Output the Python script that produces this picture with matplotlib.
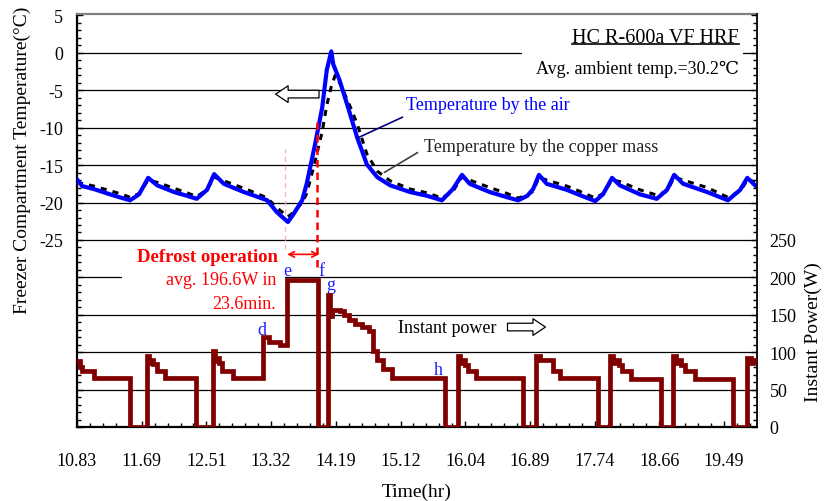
import matplotlib
matplotlib.use("Agg")
import matplotlib.pyplot as plt
from matplotlib.ticker import FixedLocator, MultipleLocator, FuncFormatter
from matplotlib.patches import Rectangle
from matplotlib.lines import Line2D

plt.rcParams["font.family"] = ["Liberation Serif", "DejaVu Serif", "DejaVu Sans"]

# time axis is a category axis: one label every 5 minor steps
time_labels = ["10.83", "11.69", "12.51", "13.32", "14.19", "15.12",
               "16.04", "16.89", "17.74", "18.66", "19.49"]

# freezer temperature measured by the air (axis position, degC)
air_x = [0.00, 0.08, 0.26, 0.51, 0.66, 0.82, 0.96, 1.10, 1.24, 1.50, 1.70,
         1.85, 2.01, 2.12, 2.27, 2.58, 2.81, 2.94, 3.09, 3.26, 3.35, 3.48,
         3.55, 3.68, 3.79, 3.86, 3.93, 3.96, 4.06, 4.19, 4.33, 4.48, 4.64,
         4.84, 5.15, 5.41, 5.64, 5.81, 5.95, 6.07, 6.38, 6.65, 6.82, 6.96,
         7.05, 7.14, 7.26, 7.57, 7.77, 8.01, 8.13, 8.27, 8.39, 8.70, 8.96,
         9.12, 9.23, 9.37, 9.74, 10.06, 10.25, 10.36, 10.48]
air_t = [-16.9, -17.8, -18.2, -18.9, -19.3, -19.7, -18.9, -16.7, -17.7, -18.6,
         -19.1, -19.5, -18.3, -16.2, -17.5, -18.6, -19.3, -19.7, -21.3, -22.6,
         -21.5, -19.7, -17.5, -12.2, -7.3, -2.3, 0.2, -1.5, -3.7, -7.3, -11.3,
         -14.9, -16.6, -17.7, -18.6, -19.1, -19.7, -18.2, -16.3, -17.5, -18.6,
         -19.3, -19.7, -19.1, -18.2, -16.3, -17.5, -18.3, -19.0, -19.8, -18.9,
         -16.7, -17.7, -18.9, -19.5, -18.3, -16.3, -17.5, -18.6, -19.7, -18.3,
         -16.7, -17.7]

# freezer temperature measured by the copper mass
copper_x = [0.00, 0.26, 0.66, 0.82, 0.96, 1.10, 1.24, 1.50, 1.70, 1.85, 2.01,
            2.12, 2.27, 2.58, 2.81, 2.94, 3.09, 3.26, 3.35, 3.48, 3.55, 3.68,
            3.79, 3.86, 3.93, 3.99, 4.06, 4.19, 4.33, 4.48, 4.64, 4.84, 5.15,
            5.41, 5.64, 5.81, 5.95, 6.07, 6.38, 6.65, 6.82, 6.96, 7.05, 7.14,
            7.26, 7.57, 7.77, 8.01, 8.13, 8.27, 8.39, 8.70, 8.96, 9.12, 9.23,
            9.37, 9.74, 10.06, 10.25, 10.36, 10.48]
copper_t = [-17.3, -17.8, -18.8, -19.3, -18.8, -17.0, -17.3, -18.1, -18.7,
            -19.2, -18.3, -16.6, -17.1, -18.1, -18.9, -19.4, -20.7, -21.9,
            -21.3, -20.0, -18.8, -14.5, -10.5, -7.0, -4.5, -3.0, -4.0, -6.5,
            -9.5, -13.5, -15.8, -17.1, -18.2, -18.7, -19.4, -18.5, -16.6,
            -17.0, -18.0, -18.8, -19.4, -19.0, -18.5, -16.6, -17.0, -17.8,
            -18.5, -19.4, -18.8, -17.0, -17.2, -18.3, -19.0, -18.5, -16.6,
            -17.0, -18.0, -19.3, -18.5, -17.0, -17.2]

# instantaneous compressor / heater power, held until the next point (W)
power_x = [0.00, 0.05, 0.08, 0.26, 0.82, 1.08, 1.12, 1.14, 1.18, 1.24, 1.36,
           1.84, 2.10, 2.13, 2.16, 2.19, 2.24, 2.41, 2.87, 2.96, 3.13, 3.24,
           3.72, 3.88, 3.91, 3.94, 4.06, 4.13, 4.20, 4.29, 4.40, 4.52, 4.57,
           4.63, 4.73, 4.87, 5.69, 5.89, 5.92, 5.96, 6.00, 6.05, 6.16, 6.89,
           7.09, 7.15, 7.35, 7.46, 8.05, 8.24, 8.29, 8.33, 8.38, 8.43, 8.57,
           9.02, 9.21, 9.26, 9.30, 9.34, 9.40, 9.55, 10.14, 10.36, 10.41,
           10.45, 10.51]
power_w = [88, 80, 75, 66, 0, 95, 85, 90, 84, 75, 66,
           0, 102, 88, 92, 86, 75, 66, 120, 114, 110, 197,
           0, 176, 148, 156, 155, 150, 143, 138, 133, 128, 102,
           90, 78, 66, 0, 95, 86, 90, 83, 75, 66, 0,
           95, 89, 75, 66, 0, 95, 86, 90, 83, 75, 64,
           0, 95, 86, 90, 83, 75, 64, 0, 92, 86,
           90, 88]

W, H = 825, 502
fig = plt.figure(figsize=(W / 100, H / 100), dpi=100)
ax = fig.add_axes([77 / W, 74 / H, 680 / W, 413 / H])
ax2 = ax.twinx()

# horizontal grid, one line per 5 degC (= 50 W)
for lev in range(-45, 1, 5):
    ax.axhline(lev, color="black", lw=0.9, zorder=1)

# white panels behind the annotation blocks
ax.add_patch(Rectangle((0.066, 0.281), 0.240, 0.160, transform=ax.transAxes,
                       facecolor="white", edgecolor="none", zorder=1.5))
ax.add_patch(Rectangle((0.654, 0.843), 0.325, 0.133, transform=ax.transAxes,
                       facecolor="white", edgecolor="none", zorder=1.5))

ax.plot(copper_x, copper_t, color="black", lw=2.2, dashes=(2, 2), zorder=3)
ax.plot(air_x, air_t, color="#0000ff", lw=3.0, zorder=4)
ax2.plot(power_x, power_w, color="#800000", lw=3.4, drawstyle="steps-post",
         solid_joinstyle="miter", zorder=4)

ax.set_xlim(0, 10.51)
ax.set_ylim(-50, 5.2)
ax2.set_ylim(0, 552)

ax.xaxis.set_major_locator(FixedLocator(range(len(time_labels))))
ax.set_xticklabels(time_labels)
ax.xaxis.set_minor_locator(MultipleLocator(0.2))

ax.yaxis.set_major_locator(FixedLocator(range(-50, 6, 5)))
ax.yaxis.set_minor_locator(MultipleLocator(1))
ax.yaxis.set_major_formatter(FuncFormatter(lambda v, p: "%d" % v if v >= -25 else ""))

ax2.yaxis.set_major_locator(FixedLocator(range(0, 551, 50)))
ax2.yaxis.set_minor_locator(MultipleLocator(10))
ax2.yaxis.set_major_formatter(FuncFormatter(lambda v, p: "%d" % v if v <= 250 else ""))

ax.tick_params(which="both", direction="in", labelsize=13, right=False, top=False)
ax.tick_params(which="major", length=4.5, width=1)
ax.tick_params(which="minor", length=3, width=1)
ax.tick_params(axis="x", pad=18)
ax.tick_params(axis="y", pad=10)
ax2.tick_params(which="both", direction="in", labelsize=13, pad=9)
ax2.tick_params(which="major", length=4.5, width=1)
ax2.tick_params(which="minor", length=3, width=1)

for s in ["left", "bottom"]:
    ax.spines[s].set_linewidth(1.6)
ax.spines["top"].set_color("#808080")
ax.spines["top"].set_linewidth(1.6)
ax.spines["right"].set_visible(False)
for s in ["left", "bottom", "top"]:
    ax2.spines[s].set_visible(False)
ax2.spines["right"].set_linewidth(1.3)

# axis titles
fig.text(417 / W, 1 - 492 / H, "Time(hr)", fontsize=14, ha="center", va="center")
fig.text(22 / W, 1 - 314 / H, "Freezer Compartment Temperature(°C)", fontsize=14,
         rotation=90, ha="center", va="bottom")
fig.text(813 / W, 1 - 402 / H, "Instant Power(W)", fontsize=14,
         rotation=90, ha="center", va="bottom")

# annotations
T = ax.transAxes
title = ax.text(0.9735, 0.944, "HC R-600a VF HRF", fontsize=14.5, ha="right",
                va="center", transform=T, zorder=5)
ax.text(0.9735, 0.869, "Avg. ambient temp.=30.2℃", fontsize=13, ha="right",
        va="center", transform=T, zorder=5)
ax.text(0.484, 0.782, "Temperature by the air", fontsize=13, color="#0000ff",
        ha="left", va="center", transform=T, zorder=5)
ax.text(0.510, 0.680, "Temperature by the copper mass", fontsize=13,
        color="#222222", ha="left", va="center", transform=T, zorder=5)
ax.text(0.472, 0.242, "Instant power", fontsize=13, ha="left", va="center",
        transform=T, zorder=5)
ax.text(0.2956, 0.414, "Defrost operation", fontsize=13.5, color="red",
        fontweight="bold", ha="right", va="center", transform=T, zorder=5)
ax.text(0.2926, 0.356, "avg. 196.6W in", fontsize=13, color="red",
        ha="right", va="center", transform=T, zorder=5)
ax.text(0.2926, 0.300, "23.6min.", fontsize=13, color="red",
        ha="right", va="center", transform=T, zorder=5)

for lbl, px, py in [("d", 0.272, 0.237), ("e", 0.309, 0.380), ("f", 0.359, 0.380),
                    ("g", 0.3735, 0.345), ("h", 0.532, 0.140)]:
    ax.text(px, py, lbl, fontsize=13, color="#2020ff", ha="center", va="center",
            transform=T, zorder=5)

# leader lines from the curve labels
ax.annotate("", xy=(0.4088, 0.697), xytext=(0.4824, 0.753), xycoords=T,
            arrowprops=dict(arrowstyle="-", color="#000080", lw=1.2), zorder=5)
ax.annotate("", xy=(0.4485, 0.613), xytext=(0.5044, 0.668), xycoords=T,
            arrowprops=dict(arrowstyle="-", color="#404040", lw=1.2), zorder=5)

# hollow direction arrows (which axis each curve belongs to)
ax.annotate("", xy=(0.288, 0.806), xytext=(0.360, 0.806), xycoords=T,
            arrowprops=dict(arrowstyle="simple,head_length=0.9,head_width=1.2,tail_width=0.55",
                            fc="white", ec="black", lw=0.9), zorder=5)
ax.annotate("", xy=(0.693, 0.242), xytext=(0.629, 0.242), xycoords=T,
            arrowprops=dict(arrowstyle="simple,head_length=0.9,head_width=1.2,tail_width=0.55",
                            fc="white", ec="black", lw=0.9), zorder=5)

# defrost period markers
ax.annotate("", xy=(0.309, 0.418), xytext=(0.356, 0.418), xycoords=T,
            arrowprops=dict(arrowstyle="<->", color="red", lw=1.2,
                            shrinkA=0, shrinkB=0), zorder=5)
ax.plot([0.353, 0.353], [0.387, 0.751], transform=T, color="red", lw=1.8,
        dashes=(3, 2), zorder=5)
ax.plot([0.306, 0.306], [0.431, 0.673], transform=T, color="#f4b4b4", lw=0.9,
        dashes=(4, 3), zorder=2)

# underline the model name
fig.canvas.draw()
bb = title.get_window_extent().transformed(fig.transFigure.inverted())
fig.add_artist(Line2D([bb.x0, bb.x1], [bb.y0 + 2.5 / H, bb.y0 + 2.5 / H],
                      color="black", lw=1.2))

fig.savefig("out.png", dpi=100)
